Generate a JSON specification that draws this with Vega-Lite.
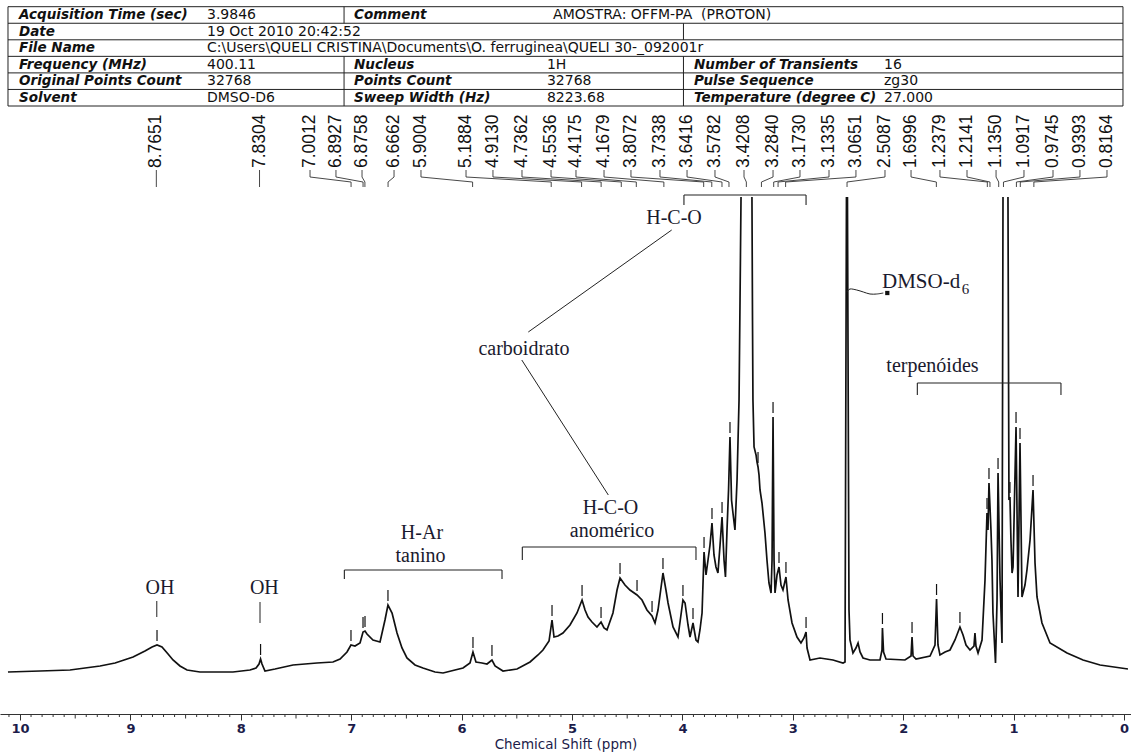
{
  "$schema": "https://vega.github.io/schema/vega-lite/v6.json",
  "width": 1131,
  "height": 752,
  "autosize": {"type": "none"},
  "padding": 0,
  "background": "white",
  "config": {"view": {"stroke": null}},
  "datasets": {
    "spec": [
      {"ppm":10.109,"i":-1,"s":1},{"ppm":9.819,"i":0,"s":1},{"ppm":9.547,"i":1,"s":1},{"ppm":9.275,"i":5,"s":1},{"ppm":9.139,"i":8,"s":1},{"ppm":8.976,"i":14,"s":1},{"ppm":8.868,"i":20,"s":1},{"ppm":8.804,"i":24,"s":1},{"ppm":8.759,"i":26,"s":1},{"ppm":8.714,"i":24,"s":1},{"ppm":8.659,"i":17,"s":1},{"ppm":8.614,"i":11,"s":1},{"ppm":8.551,"i":5,"s":1},{"ppm":8.487,"i":1,"s":1},{"ppm":8.370,"i":-1,"s":1},{"ppm":8.071,"i":-1,"s":1},{"ppm":7.917,"i":1,"s":1},{"ppm":7.862,"i":3,"s":1},{"ppm":7.835,"i":7,"s":1},{"ppm":7.821,"i":12,"s":1},{"ppm":7.808,"i":7,"s":1},{"ppm":7.781,"i":0,"s":1},{"ppm":7.690,"i":2,"s":1},{"ppm":7.527,"i":6,"s":1},{"ppm":7.310,"i":8,"s":1},{"ppm":7.165,"i":9,"s":1},{"ppm":7.101,"i":12,"s":1},{"ppm":7.038,"i":19,"s":1},{"ppm":7.002,"i":26,"s":1},{"ppm":6.966,"i":25,"s":1},{"ppm":6.920,"i":28,"s":1},{"ppm":6.893,"i":39,"s":1},{"ppm":6.875,"i":40,"s":1},{"ppm":6.857,"i":37,"s":1},{"ppm":6.803,"i":31,"s":1},{"ppm":6.739,"i":29,"s":1},{"ppm":6.694,"i":51,"s":1},{"ppm":6.667,"i":66,"s":1},{"ppm":6.630,"i":58,"s":1},{"ppm":6.585,"i":38,"s":1},{"ppm":6.540,"i":23,"s":1},{"ppm":6.495,"i":13,"s":1},{"ppm":6.422,"i":6,"s":1},{"ppm":6.350,"i":3,"s":1},{"ppm":6.241,"i":-1,"s":1},{"ppm":6.168,"i":-2,"s":1},{"ppm":6.060,"i":1,"s":1},{"ppm":5.987,"i":3,"s":1},{"ppm":5.924,"i":8,"s":1},{"ppm":5.897,"i":19,"s":1},{"ppm":5.870,"i":9,"s":1},{"ppm":5.815,"i":8,"s":1},{"ppm":5.770,"i":7,"s":1},{"ppm":5.725,"i":11,"s":1},{"ppm":5.697,"i":5,"s":1},{"ppm":5.625,"i":0,"s":1},{"ppm":5.498,"i":2,"s":1},{"ppm":5.380,"i":9,"s":1},{"ppm":5.308,"i":16,"s":1},{"ppm":5.263,"i":21,"s":1},{"ppm":5.208,"i":30,"s":1},{"ppm":5.181,"i":51,"s":1},{"ppm":5.163,"i":34,"s":1},{"ppm":5.127,"i":35,"s":1},{"ppm":5.082,"i":38,"s":1},{"ppm":5.018,"i":46,"s":1},{"ppm":4.955,"i":58,"s":1},{"ppm":4.909,"i":71,"s":1},{"ppm":4.882,"i":61,"s":1},{"ppm":4.855,"i":54,"s":1},{"ppm":4.819,"i":49,"s":1},{"ppm":4.774,"i":44,"s":1},{"ppm":4.737,"i":49,"s":1},{"ppm":4.710,"i":43,"s":1},{"ppm":4.683,"i":41,"s":1},{"ppm":4.629,"i":58,"s":1},{"ppm":4.592,"i":81,"s":1},{"ppm":4.565,"i":93,"s":1},{"ppm":4.520,"i":86,"s":1},{"ppm":4.475,"i":81,"s":1},{"ppm":4.411,"i":76,"s":1},{"ppm":4.366,"i":71,"s":1},{"ppm":4.321,"i":61,"s":1},{"ppm":4.275,"i":55,"s":1},{"ppm":4.248,"i":48,"s":1},{"ppm":4.221,"i":61,"s":1},{"ppm":4.176,"i":98,"s":1},{"ppm":4.149,"i":81,"s":1},{"ppm":4.130,"i":68,"s":1},{"ppm":4.085,"i":44,"s":1},{"ppm":4.040,"i":34,"s":1},{"ppm":4.013,"i":56,"s":1},{"ppm":3.995,"i":71,"s":1},{"ppm":3.976,"i":68,"s":1},{"ppm":3.949,"i":46,"s":1},{"ppm":3.931,"i":34,"s":1},{"ppm":3.904,"i":48,"s":1},{"ppm":3.877,"i":31,"s":1},{"ppm":3.859,"i":29,"s":1},{"ppm":3.841,"i":41,"s":1},{"ppm":3.822,"i":58,"s":1},{"ppm":3.804,"i":119,"s":1},{"ppm":3.786,"i":96,"s":1},{"ppm":3.768,"i":111,"s":1},{"ppm":3.750,"i":126,"s":1},{"ppm":3.732,"i":148,"s":1},{"ppm":3.714,"i":116,"s":1},{"ppm":3.696,"i":104,"s":1},{"ppm":3.678,"i":98,"s":1},{"ppm":3.659,"i":126,"s":1},{"ppm":3.641,"i":154,"s":1},{"ppm":3.623,"i":111,"s":1},{"ppm":3.610,"i":94,"s":1},{"ppm":3.596,"i":141,"s":1},{"ppm":3.582,"i":181,"s":1},{"ppm":3.569,"i":234,"s":1},{"ppm":3.555,"i":171,"s":1},{"ppm":3.542,"i":158,"s":1},{"ppm":3.524,"i":141,"s":1},{"ppm":3.505,"i":191,"s":1},{"ppm":3.487,"i":271,"s":1},{"ppm":3.478,"i":371,"s":1},{"ppm":3.469,"i":474,"s":1},
      {"ppm":3.370,"i":474,"s":2},{"ppm":3.365,"i":351,"s":2},{"ppm":3.361,"i":271,"s":2},{"ppm":3.351,"i":224,"s":2},{"ppm":3.333,"i":216,"s":2},{"ppm":3.324,"i":209,"s":2},{"ppm":3.315,"i":204,"s":2},{"ppm":3.306,"i":196,"s":2},{"ppm":3.297,"i":181,"s":2},{"ppm":3.279,"i":168,"s":2},{"ppm":3.252,"i":138,"s":2},{"ppm":3.234,"i":111,"s":2},{"ppm":3.216,"i":88,"s":2},{"ppm":3.197,"i":78,"s":2},{"ppm":3.188,"i":111,"s":2},{"ppm":3.179,"i":254,"s":2},{"ppm":3.170,"i":111,"s":2},{"ppm":3.161,"i":78,"s":2},{"ppm":3.143,"i":96,"s":2},{"ppm":3.125,"i":104,"s":2},{"ppm":3.107,"i":86,"s":2},{"ppm":3.089,"i":81,"s":2},{"ppm":3.062,"i":94,"s":2},{"ppm":3.043,"i":71,"s":2},{"ppm":3.007,"i":48,"s":2},{"ppm":2.962,"i":34,"s":2},{"ppm":2.926,"i":28,"s":2},{"ppm":2.899,"i":33,"s":2},{"ppm":2.880,"i":39,"s":2},{"ppm":2.871,"i":23,"s":2},{"ppm":2.844,"i":11,"s":2},{"ppm":2.754,"i":13,"s":2},{"ppm":2.636,"i":11,"s":2},{"ppm":2.545,"i":8,"s":2},{"ppm":2.527,"i":9,"s":2},{"ppm":2.514,"i":474,"s":2},
      {"ppm":2.505,"i":474,"s":3},{"ppm":2.491,"i":61,"s":3},{"ppm":2.482,"i":31,"s":3},{"ppm":2.455,"i":18,"s":3},{"ppm":2.428,"i":23,"s":3},{"ppm":2.409,"i":28,"s":3},{"ppm":2.391,"i":19,"s":3},{"ppm":2.364,"i":13,"s":3},{"ppm":2.301,"i":11,"s":3},{"ppm":2.210,"i":11,"s":3},{"ppm":2.192,"i":21,"s":3},{"ppm":2.188,"i":43,"s":3},{"ppm":2.178,"i":19,"s":3},{"ppm":2.156,"i":12,"s":3},{"ppm":1.984,"i":11,"s":3},{"ppm":1.929,"i":15,"s":3},{"ppm":1.920,"i":34,"s":3},{"ppm":1.911,"i":15,"s":3},{"ppm":1.884,"i":12,"s":3},{"ppm":1.757,"i":15,"s":3},{"ppm":1.712,"i":26,"s":3},{"ppm":1.698,"i":72,"s":3},{"ppm":1.685,"i":26,"s":3},{"ppm":1.667,"i":16,"s":3},{"ppm":1.621,"i":19,"s":3},{"ppm":1.576,"i":21,"s":3},{"ppm":1.531,"i":31,"s":3},{"ppm":1.486,"i":44,"s":3},{"ppm":1.458,"i":36,"s":3},{"ppm":1.431,"i":26,"s":3},{"ppm":1.395,"i":21,"s":3},{"ppm":1.359,"i":25,"s":3},{"ppm":1.350,"i":38,"s":3},{"ppm":1.341,"i":25,"s":3},{"ppm":1.322,"i":18,"s":3},{"ppm":1.286,"i":31,"s":3},{"ppm":1.259,"i":91,"s":3},{"ppm":1.241,"i":158,"s":3},{"ppm":1.232,"i":141,"s":3},{"ppm":1.223,"i":188,"s":3},{"ppm":1.205,"i":141,"s":3},{"ppm":1.196,"i":111,"s":3},{"ppm":1.187,"i":58,"s":3},{"ppm":1.164,"i":8,"s":3},{"ppm":1.150,"i":71,"s":3},{"ppm":1.141,"i":198,"s":3},{"ppm":1.123,"i":91,"s":3},{"ppm":1.105,"i":28,"s":3},{"ppm":1.096,"i":474,"s":3},
      {"ppm":1.051,"i":474,"s":4},{"ppm":1.042,"i":171,"s":4},{"ppm":1.033,"i":174,"s":4},{"ppm":1.024,"i":131,"s":4},{"ppm":1.014,"i":98,"s":4},{"ppm":1.005,"i":104,"s":4},{"ppm":0.978,"i":244,"s":4},{"ppm":0.960,"i":74,"s":4},{"ppm":0.942,"i":228,"s":4},{"ppm":0.924,"i":74,"s":4},{"ppm":0.897,"i":86,"s":4},{"ppm":0.879,"i":101,"s":4},{"ppm":0.851,"i":131,"s":4},{"ppm":0.824,"i":181,"s":4},{"ppm":0.806,"i":108,"s":4},{"ppm":0.788,"i":74,"s":4},{"ppm":0.743,"i":48,"s":4},{"ppm":0.670,"i":28,"s":4},{"ppm":0.516,"i":18,"s":4},{"ppm":0.371,"i":11,"s":4},{"ppm":0.217,"i":6,"s":4},{"ppm":-0.036,"i":2,"s":4}
    ],
    "peaks": [
      {"ppm":8.759,"h":26},{"ppm":7.821,"h":12},{"ppm":7.002,"h":26},{"ppm":6.893,"h":39},{"ppm":6.875,"h":40},{"ppm":6.667,"h":66},{"ppm":5.897,"h":19},{"ppm":5.725,"h":11},{"ppm":5.181,"h":51},{"ppm":4.909,"h":71},{"ppm":4.737,"h":49},{"ppm":4.565,"h":93},{"ppm":4.411,"h":76},{"ppm":4.275,"h":55},{"ppm":4.176,"h":98},{"ppm":3.995,"h":71},{"ppm":3.904,"h":48},{"ppm":3.804,"h":119},{"ppm":3.732,"h":148},{"ppm":3.641,"h":154},{"ppm":3.569,"h":234},{"ppm":3.315,"h":204},{"ppm":3.179,"h":254},{"ppm":3.125,"h":104},{"ppm":3.062,"h":94},{"ppm":2.880,"h":39},{"ppm":2.188,"h":43},{"ppm":1.920,"h":34},{"ppm":1.698,"h":72},{"ppm":1.486,"h":44},{"ppm":1.241,"h":158},{"ppm":1.223,"h":188},{"ppm":1.141,"h":198},{"ppm":1.033,"h":174},{"ppm":0.978,"h":244},{"ppm":0.942,"h":228},{"ppm":0.824,"h":181}
    ],
    "labels": [
      {"v":8.7651,"lp":8.7651,"t":"8.7651"},{"v":7.8304,"lp":7.8304,"t":"7.8304"},{"v":7.0012,"lp":7.373,"t":"7.0012"},{"v":6.8927,"lp":7.138,"t":"6.8927"},{"v":6.8758,"lp":6.902,"t":"6.8758"},{"v":6.6662,"lp":6.612,"t":"6.6662"},{"v":5.9004,"lp":6.368,"t":"5.9004"},{"v":5.1884,"lp":5.960,"t":"5.1884"},{"v":4.9130,"lp":5.716,"t":"4.9130"},{"v":4.7362,"lp":5.453,"t":"4.7362"},{"v":4.5536,"lp":5.190,"t":"4.5536"},{"v":4.4175,"lp":4.964,"t":"4.4175"},{"v":4.1679,"lp":4.710,"t":"4.1679"},{"v":3.8072,"lp":4.466,"t":"3.8072"},{"v":3.7338,"lp":4.203,"t":"3.7338"},{"v":3.6416,"lp":3.958,"t":"3.6416"},{"v":3.5782,"lp":3.705,"t":"3.5782"},{"v":3.4208,"lp":3.442,"t":"3.4208"},{"v":3.2840,"lp":3.179,"t":"3.2840"},{"v":3.1730,"lp":2.935,"t":"3.1730"},{"v":3.1335,"lp":2.672,"t":"3.1335"},{"v":3.0651,"lp":2.428,"t":"3.0651"},{"v":2.5087,"lp":2.165,"t":"2.5087"},{"v":1.6996,"lp":1.929,"t":"1.6996"},{"v":1.2379,"lp":1.667,"t":"1.2379"},{"v":1.2141,"lp":1.422,"t":"1.2141"},{"v":1.1350,"lp":1.159,"t":"1.1350"},{"v":1.0917,"lp":0.906,"t":"1.0917"},{"v":0.9745,"lp":0.643,"t":"0.9745"},{"v":0.9393,"lp":0.399,"t":"0.9393"},{"v":0.8164,"lp":0.154,"t":"0.8164"}
    ],
    "notes": [
      {"t":"OH","x":8.732,"v":83},{"t":"OH","x":7.787,"v":83},{"t":"H-Ar","x":6.359,"v":138},{"t":"tanino","x":6.372,"v":115},{"t":"H-C-O","x":4.651,"v":163},{"t":"anomérico","x":4.638,"v":140},{"t":"carboidrato","x":5.435,"v":322},{"t":"H-C-O","x":4.076,"v":453},{"t":"terpenóides","x":1.735,"v":305}
    ],
    "leaders": [
      {"x1":5.396,"v1":339,"x2":4.097,"v2":441},{"x1":5.455,"v1":311,"x2":4.671,"v2":176},{"x1":8.761,"v1":70,"x2":8.761,"v2":54},{"x1":7.826,"v1":69,"x2":7.826,"v2":48}
    ],
    "brackets": [
      {"l":7.062,"r":5.634,"top":101,"bot":92},{"l":5.450,"r":3.877,"top":124,"bot":111},{"l":3.986,"r":2.880,"top":476,"bot":466},{"l":1.872,"r":0.571,"top":288,"bot":276}
    ],
    "dmso": [
      {"ppm":2.509,"v":379},{"ppm":2.482,"v":382},{"ppm":2.421,"v":381},{"ppm":2.361,"v":379},{"ppm":2.301,"v":377},{"ppm":2.240,"v":377},{"ppm":2.180,"v":378}
    ],
    "minor": [
      {"t":0.1},{"t":0.2},{"t":0.3},{"t":0.4},{"t":0.6},{"t":0.7},{"t":0.8},{"t":0.9},
      {"t":1.1},{"t":1.2},{"t":1.3},{"t":1.4},{"t":1.6},{"t":1.7},{"t":1.8},{"t":1.9},
      {"t":2.1},{"t":2.2},{"t":2.3},{"t":2.4},{"t":2.6},{"t":2.7},{"t":2.8},{"t":2.9},
      {"t":3.1},{"t":3.2},{"t":3.3},{"t":3.4},{"t":3.6},{"t":3.7},{"t":3.8},{"t":3.9},
      {"t":4.1},{"t":4.2},{"t":4.3},{"t":4.4},{"t":4.6},{"t":4.7},{"t":4.8},{"t":4.9},
      {"t":5.1},{"t":5.2},{"t":5.3},{"t":5.4},{"t":5.6},{"t":5.7},{"t":5.8},{"t":5.9},
      {"t":6.1},{"t":6.2},{"t":6.3},{"t":6.4},{"t":6.6},{"t":6.7},{"t":6.8},{"t":6.9},
      {"t":7.1},{"t":7.2},{"t":7.3},{"t":7.4},{"t":7.6},{"t":7.7},{"t":7.8},{"t":7.9},
      {"t":8.1},{"t":8.2},{"t":8.3},{"t":8.4},{"t":8.6},{"t":8.7},{"t":8.8},{"t":8.9},
      {"t":9.1},{"t":9.2},{"t":9.3},{"t":9.4},{"t":9.6},{"t":9.7},{"t":9.8},{"t":9.9},
      {"t":10.1}
    ],
    "half": [
      {"t":0.5},{"t":1.5},{"t":2.5},{"t":3.5},{"t":4.5},{"t":5.5},{"t":6.5},{"t":7.5},{"t":8.5},{"t":9.5}
    ],
    "table": [
      {"row":0.5,"tx":1.68,"k":"L","text":"Acquisition Time (sec)"},{"row":0.5,"tx":18.3,"k":"V","text":"3.9846"},{"row":0.5,"tx":31.3,"k":"L","text":"Comment"},{"row":0.5,"tx":48.9,"k":"V","text":"AMOSTRA: OFFM-PA\u00a0 (PROTON)"},
      {"row":1.5,"tx":1.68,"k":"L","text":"Date"},{"row":1.5,"tx":18.3,"k":"V","text":"19 Oct 2010 20:42:52"},
      {"row":2.5,"tx":1.68,"k":"L","text":"File Name"},{"row":2.5,"tx":18.3,"k":"V","text":"C:\\Users\\QUELI CRISTINA\\Documents\\O. ferruginea\\QUELI 30-_092001r"},
      {"row":3.5,"tx":1.68,"k":"L","text":"Frequency (MHz)"},{"row":3.5,"tx":18.3,"k":"V","text":"400.11"},{"row":3.5,"tx":31.3,"k":"L","text":"Nucleus"},{"row":3.5,"tx":48.36,"k":"V","text":"1H"},{"row":3.5,"tx":61.36,"k":"L","text":"Number of Transients"},{"row":3.5,"tx":78.16,"k":"V","text":"16"},
      {"row":4.5,"tx":1.68,"k":"L","text":"Original Points Count"},{"row":4.5,"tx":18.3,"k":"V","text":"32768"},{"row":4.5,"tx":31.3,"k":"L","text":"Points Count"},{"row":4.5,"tx":48.36,"k":"V","text":"32768"},{"row":4.5,"tx":61.36,"k":"L","text":"Pulse Sequence"},{"row":4.5,"tx":78.16,"k":"V","text":"zg30"},
      {"row":5.5,"tx":1.68,"k":"L","text":"Solvent"},{"row":5.5,"tx":18.3,"k":"V","text":"DMSO-D6"},{"row":5.5,"tx":31.3,"k":"L","text":"Sweep Width (Hz)"},{"row":5.5,"tx":48.36,"k":"V","text":"8223.68"},{"row":5.5,"tx":61.36,"k":"L","text":"Temperature (degree C)"},{"row":5.5,"tx":78.16,"k":"V","text":"27.000"}
    ],
    "hlines": [{"e":0},{"e":1},{"e":2},{"e":3},{"e":4},{"e":5},{"e":6}],
    "vlines": [
      {"tx":0.707,"r0":0,"r1":6},{"tx":99.29,"r0":0,"r1":6},{"tx":30.42,"r0":0,"r1":1},{"tx":30.42,"r0":3,"r1":6},{"tx":60.43,"r0":1,"r1":2},{"tx":60.43,"r0":3,"r1":6}
    ]
  },
  "layer": [
    {
      "layer": [
        {
          "data": {"name": "spec"},
          "mark": {"type": "line", "color": "#111", "strokeWidth": 1.7},
          "encoding": {
            "x": {"field": "ppm", "type": "quantitative",
              "scale": {"domain": [-0.0634, 10.1812], "reverse": true, "nice": false, "zero": false},
              "axis": {
                "values": [0,1,2,3,4,5,6,7,8,9,10],
                "format": "d",
                "tickSize": 6,
                "offset": -38,
                "grid": false,
                "labelOverlap": false,
                "domainColor": "#333", "tickColor": "#333", "domainWidth": 1, "tickWidth": 1,
                "labelFont": "DejaVu Sans", "labelFontSize": 13, "labelFontWeight": "bold", "labelColor": "#1c1c4a",
                "labelPadding": 2, "labelFlush": false, "labelBound": false,
                "title": "Chemical Shift (ppm)", "titleFont": "DejaVu Sans", "titleFontSize": 13.5, "titleFontWeight": "normal", "titleColor": "#1c1c4a", "titlePadding": 2
              }
            },
            "y": {"field": "i", "type": "quantitative", "scale": {"domain": [-81, 671], "nice": false, "zero": false}, "axis": null},
            "detail": {"field": "s", "type": "nominal"}
          }
        },
        {
          "data": {"name": "minor"},
          "mark": {"type": "rule", "color": "#333", "strokeWidth": 1},
          "encoding": {
            "x": {"field": "t", "type": "quantitative"},
            "y": {"datum": -43, "type": "quantitative", "axis": null},
            "y2": {"datum": -46}
          }
        },
        {
          "data": {"name": "half"},
          "mark": {"type": "rule", "color": "#333", "strokeWidth": 1},
          "encoding": {
            "x": {"field": "t", "type": "quantitative"},
            "y": {"datum": -43, "type": "quantitative", "axis": null},
            "y2": {"datum": -47.5}
          }
        },
        {
          "data": {"name": "brackets"},
          "mark": {"type": "rule", "color": "#222", "strokeWidth": 1.1},
          "encoding": {
            "x": {"field": "l", "type": "quantitative"},
            "x2": {"field": "r"},
            "y": {"field": "top", "type": "quantitative", "axis": null}
          }
        },
        {
          "data": {"name": "brackets"},
          "mark": {"type": "rule", "color": "#222", "strokeWidth": 1.1},
          "encoding": {
            "x": {"field": "l", "type": "quantitative"},
            "y": {"field": "top", "type": "quantitative", "axis": null},
            "y2": {"field": "bot"}
          }
        },
        {
          "data": {"name": "brackets"},
          "mark": {"type": "rule", "color": "#222", "strokeWidth": 1.1},
          "encoding": {
            "x": {"field": "r", "type": "quantitative"},
            "y": {"field": "top", "type": "quantitative", "axis": null},
            "y2": {"field": "bot"}
          }
        },
        {
          "data": {"name": "leaders"},
          "mark": {"type": "rule", "color": "#222", "strokeWidth": 1},
          "encoding": {
            "x": {"field": "x1", "type": "quantitative"},
            "y": {"field": "v1", "type": "quantitative", "axis": null},
            "x2": {"field": "x2"},
            "y2": {"field": "v2"}
          }
        },
        {
          "data": {"name": "dmso"},
          "mark": {"type": "line", "color": "#222", "strokeWidth": 1, "interpolate": "cardinal"},
          "encoding": {
            "x": {"field": "ppm", "type": "quantitative"},
            "y": {"field": "v", "type": "quantitative", "axis": null}
          }
        },
        {
          "data": {"values": [{"ppm": 2.144, "v": 378}]},
          "mark": {"type": "point", "shape": "square", "filled": true, "size": 18, "color": "#111", "opacity": 1},
          "encoding": {
            "x": {"field": "ppm", "type": "quantitative"},
            "y": {"field": "v", "type": "quantitative", "axis": null}
          }
        },
        {
          "data": {"name": "peaks"},
          "mark": {"type": "rule", "color": "#111", "strokeWidth": 1.2, "yOffset": -4, "y2Offset": -15},
          "encoding": {
            "x": {"field": "ppm", "type": "quantitative"},
            "y": {"field": "h", "type": "quantitative", "axis": null},
            "y2": {"field": "h"}
          }
        },
        {
          "data": {"name": "labels"},
          "mark": {"type": "rule", "color": "#333", "strokeWidth": 0.9},
          "encoding": {
            "x": {"field": "lp", "type": "quantitative"},
            "y": {"datum": 501, "type": "quantitative", "axis": null},
            "y2": {"datum": 494}
          }
        },
        {
          "data": {"name": "labels"},
          "mark": {"type": "rule", "color": "#333", "strokeWidth": 0.9},
          "encoding": {
            "x": {"field": "lp", "type": "quantitative"},
            "y": {"datum": 494, "type": "quantitative", "axis": null},
            "x2": {"field": "v"},
            "y2": {"datum": 489}
          }
        },
        {
          "data": {"name": "labels"},
          "mark": {"type": "rule", "color": "#333", "strokeWidth": 0.9},
          "encoding": {
            "x": {"field": "v", "type": "quantitative"},
            "y": {"datum": 489, "type": "quantitative", "axis": null},
            "y2": {"datum": 484}
          }
        },
        {
          "data": {"name": "labels"},
          "mark": {"type": "text", "angle": 270, "align": "left", "baseline": "middle", "font": "Liberation Sans", "fontSize": 17.5, "color": "#111"},
          "encoding": {
            "x": {"field": "lp", "type": "quantitative"},
            "y": {"datum": 503, "type": "quantitative", "axis": null},
            "text": {"field": "t"}
          }
        },
        {
          "data": {"name": "notes"},
          "mark": {"type": "text", "align": "center", "baseline": "middle", "font": "Liberation Serif", "fontSize": 20, "color": "#1a1a2e"},
          "encoding": {
            "x": {"field": "x", "type": "quantitative"},
            "y": {"field": "v", "type": "quantitative", "axis": null},
            "text": {"field": "t"}
          }
        },
        {
          "data": {"values": [{"t": "DMSO-d", "x": 2.192, "v": 389}]},
          "mark": {"type": "text", "align": "left", "baseline": "middle", "font": "Liberation Serif", "fontSize": 21, "color": "#1a1a2e"},
          "encoding": {
            "x": {"field": "x", "type": "quantitative"},
            "y": {"field": "v", "type": "quantitative", "axis": null},
            "text": {"field": "t"}
          }
        },
        {
          "data": {"values": [{"t": "6", "x": 1.47, "v": 382}]},
          "mark": {"type": "text", "align": "left", "baseline": "middle", "font": "Liberation Serif", "fontSize": 15, "color": "#1a1a2e"},
          "encoding": {
            "x": {"field": "x", "type": "quantitative"},
            "y": {"field": "v", "type": "quantitative", "axis": null},
            "text": {"field": "t"}
          }
        }
      ]
    },
    {
      "layer": [
        {
          "data": {"name": "hlines"},
          "mark": {"type": "rule", "color": "#222", "strokeWidth": 1},
          "encoding": {
            "x": {"datum": 0.707, "type": "quantitative", "scale": {"domain": [0, 100], "nice": false, "zero": false}, "axis": null},
            "x2": {"datum": 99.29},
            "y": {"field": "e", "type": "quantitative", "scale": {"domain": [0, 6], "range": [6.7, 106], "nice": false, "zero": false}, "axis": null}
          }
        },
        {
          "data": {"name": "vlines"},
          "mark": {"type": "rule", "color": "#222", "strokeWidth": 1},
          "encoding": {
            "x": {"field": "tx", "type": "quantitative", "axis": null},
            "y": {"field": "r0", "type": "quantitative", "axis": null},
            "y2": {"field": "r1"}
          }
        },
        {
          "data": {"name": "table"},
          "transform": [{"filter": "datum.k === 'L'"}],
          "mark": {"type": "text", "align": "left", "baseline": "middle", "font": "DejaVu Sans", "fontSize": 13.5, "fontWeight": "bold", "fontStyle": "oblique", "color": "#111"},
          "encoding": {
            "x": {"field": "tx", "type": "quantitative", "axis": null},
            "y": {"field": "row", "type": "quantitative", "axis": null},
            "text": {"field": "text"}
          }
        },
        {
          "data": {"name": "table"},
          "transform": [{"filter": "datum.k === 'V'"}],
          "mark": {"type": "text", "align": "left", "baseline": "middle", "font": "DejaVu Sans", "fontSize": 14, "color": "#111"},
          "encoding": {
            "x": {"field": "tx", "type": "quantitative", "axis": null},
            "y": {"field": "row", "type": "quantitative", "axis": null},
            "text": {"field": "text"}
          }
        }
      ]
    }
  ],
  "resolve": {"scale": {"x": "independent", "y": "independent"}}
}
